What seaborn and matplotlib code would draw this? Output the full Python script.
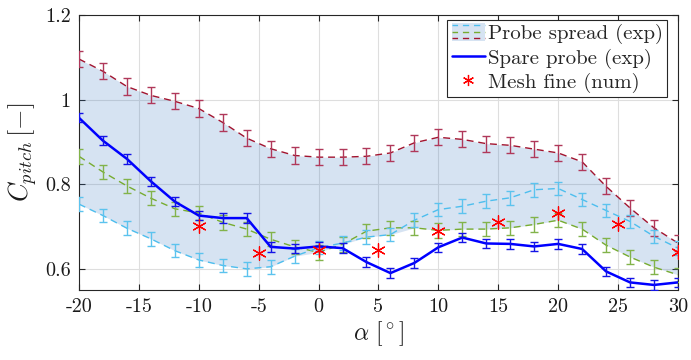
import numpy as np
import pandas as pd
import matplotlib
matplotlib.use("Agg")
import matplotlib.pyplot as plt
import seaborn as sns
from matplotlib.legend_handler import HandlerBase
from matplotlib.patches import Rectangle
from matplotlib.lines import Line2D

# ---------------- data ----------------
alpha = [-20, -18, -16, -14, -12, -10, -8, -6, -4, -2, 0, 2, 4,
         6, 8, 10, 12, 14, 16, 18, 20, 22, 24, 26, 28, 30]

probe_top = [1.096, 1.067, 1.031, 1.010, 0.996, 0.979, 0.946, 0.909, 0.884,
             0.868, 0.864, 0.864, 0.866, 0.874, 0.898, 0.911, 0.906, 0.896,
             0.892, 0.883, 0.874, 0.853, 0.795, 0.744, 0.697, 0.661]
probe_mid = [0.866, 0.829, 0.796, 0.767, 0.742, 0.732, 0.710, 0.694, 0.670,
             0.652, 0.639, 0.658, 0.689, 0.697, 0.697, 0.691, 0.694, 0.694,
             0.697, 0.705, 0.715, 0.694, 0.656, 0.628, 0.604, 0.586]
probe_low = [0.753, 0.726, 0.696, 0.671, 0.643, 0.621, 0.608, 0.600, 0.605,
             0.630, 0.650, 0.661, 0.675, 0.681, 0.715, 0.740, 0.748, 0.760,
             0.768, 0.787, 0.790, 0.764, 0.738, 0.712, 0.677, 0.649]
spare = [0.957, 0.903, 0.860, 0.807, 0.759, 0.726, 0.720, 0.720, 0.652,
         0.648, 0.653, 0.649, 0.616, 0.590, 0.614, 0.651, 0.674, 0.660,
         0.659, 0.653, 0.659, 0.647, 0.594, 0.568, 0.562, 0.568]

err_top = 0.019
err_mid = 0.017
err_low = 0.016
err_spare = 0.011

mesh_alpha = [-10, -5, 0, 5, 10, 15, 20, 25, 30]
mesh_cp = [0.702, 0.638, 0.645, 0.645, 0.689, 0.710, 0.732, 0.706, 0.640]

xticks = [-20, -15, -10, -5, 0, 5, 10, 15, 20, 25, 30]
xtick_labels = ["-20", "-15", "-10", "-5", "0", "5", "10", "15", "20", "25", "30"]
yticks = [0.6, 0.8, 1.0, 1.2]
ytick_labels = ["0.6", "0.8", "1", "1.2"]

legend_labels = ["Probe spread (exp)", "Spare probe (exp)", "Mesh fine (num)"]

# ---------------- style ----------------
sns.set_style("ticks")
plt.rcParams.update({
    "font.family": ["cmr10", "DejaVu Serif"],
    "mathtext.fontset": "cm",
    "axes.unicode_minus": False,
    "axes.formatter.use_mathtext": True,
})

c_top = "#a2142f"
c_mid = "#77ac30"
c_low = "#4dbeee"
c_spare = "#0000ff"
fill_c = "#3373bf"
fill_a = 0.2
asterisk = (6, 2, 0)

fig = plt.figure(figsize=(6.91, 3.6), dpi=100)
ax = fig.add_axes([0.1143, 0.1944, 0.8668, 0.7639])

# fill between envelope
lower = np.minimum(np.array(probe_mid), np.array(probe_low))
ax.fill_between(alpha, probe_top, lower, color=fill_c, alpha=fill_a, lw=0, zorder=1)

# dashed probe lines via seaborn
df = pd.DataFrame({
    "alpha": alpha * 3,
    "cp": probe_top + probe_mid + probe_low,
    "probe": ["top"] * len(alpha) + ["mid"] * len(alpha) + ["low"] * len(alpha),
})
sns.lineplot(data=df, x="alpha", y="cp", hue="probe", style="probe",
             palette={"top": c_top, "mid": c_mid, "low": c_low},
             dashes={"top": (5, 3.5), "mid": (5, 3.5), "low": (5, 3.5)},
             linewidth=1.0, legend=False, ax=ax, zorder=3)

for y, e, c in [(probe_top, err_top, "#b0385a"), (probe_mid, err_mid, "#82b34a"),
                (probe_low, err_low, "#5cc3ee")]:
    ax.errorbar(alpha, y, yerr=e, fmt="none", ecolor=c, elinewidth=1.0,
                capsize=3.2, capthick=1.0, zorder=3)

# spare probe
sns.lineplot(x=alpha, y=spare, color=c_spare, linewidth=1.8, ax=ax, zorder=4)
ax.errorbar(alpha, spare, yerr=err_spare, fmt="none", ecolor="#1414e6",
            elinewidth=1.0, capsize=3.2, capthick=1.0, zorder=4)

# mesh fine
sns.scatterplot(x=mesh_alpha, y=mesh_cp, marker=asterisk, s=95, color="red",
                edgecolor="red", linewidth=0.9, ax=ax, zorder=5)

# axes
ax.set_xlim(-20, 30)
ax.set_ylim(0.55, 1.2)
ax.set_xticks(xticks, labels=xtick_labels)
ax.set_yticks(yticks, labels=ytick_labels)
ax.grid(True, color="#dedede", linewidth=0.8, zorder=0)
ax.set_axisbelow(True)
ax.tick_params(direction="in", length=4, width=0.8, colors="#262626",
               labelsize=14.5, top=True, right=True, pad=6)
for lab in ax.get_xticklabels() + ax.get_yticklabels():
    lab.set_color("#1a1a1a")
for sp in ax.spines.values():
    sp.set_color("#262626")
    sp.set_linewidth(0.8)
    sp.set_visible(True)

ax.set_xlabel(r"$\alpha\ [^\circ]$", fontsize=17, labelpad=2, color="#1a1a1a")
ax.set_ylabel(r"$C_{pitch}\,[-]$", fontsize=19, labelpad=4, color="#1a1a1a")


# legend
class SpreadHandler(HandlerBase):
    def create_artists(self, legend, orig_handle, xdescent, ydescent, width,
                       height, fontsize, trans):
        x0, y0 = -xdescent, -ydescent
        arts = [Rectangle((x0, y0 - 0.1 * height), width, height * 1.2,
                          facecolor=fill_c, alpha=fill_a, edgecolor="none",
                          transform=trans)]
        for frac, c in [(0.95, c_low), (0.5, c_mid), (0.05, c_top)]:
            yy = y0 + frac * height
            arts.append(Line2D([x0, x0 + width], [yy, yy], color=c, lw=1.0,
                               linestyle=(0.5, (4.5, 3.5)), transform=trans))
        return arts


spread_proxy = Rectangle((0, 0), 1, 1)
spare_proxy = Line2D([], [], color=c_spare, lw=1.8)
mesh_proxy = Line2D([], [], color="red", marker=asterisk, linestyle="none",
                    markersize=8, markeredgewidth=0.9)
leg = ax.legend([spread_proxy, spare_proxy, mesh_proxy], legend_labels,
                handler_map={spread_proxy: SpreadHandler()},
                loc="upper right", bbox_to_anchor=(0.982, 0.982),
                borderaxespad=0, fontsize=15, handlelength=1.6,
                handletextpad=0.15, labelspacing=0.2, borderpad=0.2,
                fancybox=False, framealpha=1, edgecolor="#262626")
leg.get_frame().set_linewidth(0.8)
leg.set_zorder(10)

fig.savefig("out.png", dpi=100)
